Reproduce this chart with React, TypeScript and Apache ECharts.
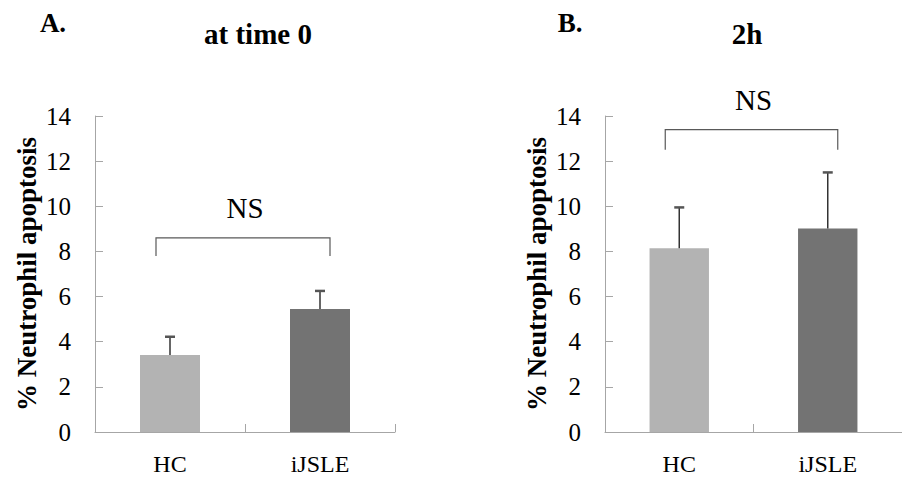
import React, { useEffect, useRef } from 'react';
import * as echarts from 'echarts';

const categories = ['HC', 'iJSLE'];
const time0Means = [3.41, 5.45];
const time0Upper = [4.22, 6.25];
const h2Means = [8.14, 9.02];
const h2Upper = [9.95, 11.5];
const barColors = ['#b3b3b3', '#737373'];
const panelLetters = ['A.', 'B.'];
const panelTitles = ['at time 0', '2h'];
const significance = ['NS', 'NS'];
const bracketTop = [8.6, 13.4];
const bracketFoot = [7.8, 12.5];
const yMin = 0;
const yMax = 14;
const yStep = 2;
const yAxisTitle = '% Neutrophil apoptosis';

const FONT = 'Liberation Serif';
const AXIS_COLOR = '#a6a6a6';

const panels = [
  { means: time0Means, upper: time0Upper },
  { means: h2Means, upper: h2Upper },
];

export default function App() {
  const ref = useRef<HTMLDivElement>(null);

  useEffect(() => {
    if (!ref.current) return;
    const chart = echarts.init(ref.current, undefined, { renderer: 'svg' });

    const grids = [
      { left: 95, top: 116, width: 300, height: 316 },
      { left: 605, top: 116, width: 303, height: 316 },
    ];

    const xAxes = panels.map((_, i) => ({
      type: 'category',
      gridIndex: i,
      data: categories,
      boundaryGap: true,
      axisLine: { show: true, lineStyle: { color: AXIS_COLOR, width: 1 } },
      axisTick: { show: true, inside: true, length: 8, lineStyle: { color: AXIS_COLOR } },
      axisLabel: { fontSize: 24, color: '#000', fontFamily: FONT, margin: 20 },
      splitLine: { show: false },
    }));

    const yAxes = panels.map((_, i) => ({
      type: 'value',
      gridIndex: i,
      min: yMin,
      max: yMax,
      interval: yStep,
      name: yAxisTitle,
      nameLocation: 'middle',
      nameRotate: 90,
      nameGap: 55,
      nameTextStyle: { fontSize: 27, fontWeight: 'bold', color: '#000', fontFamily: FONT },
      axisLine: { show: true, lineStyle: { color: AXIS_COLOR, width: 1 } },
      axisTick: { show: true, inside: true, length: 8, lineStyle: { color: AXIS_COLOR } },
      axisLabel: { fontSize: 25, color: '#000', fontFamily: FONT, margin: 24 },
      splitLine: { show: false },
    }));

    const series: any[] = [];
    panels.forEach((p, i) => {
      series.push({
        type: 'bar',
        xAxisIndex: i,
        yAxisIndex: i,
        barWidth: '40%',
        data: p.means.map((v, j) => ({ value: v, itemStyle: { color: barColors[j] } })),
        z: 2,
      });
      series.push({
        type: 'custom',
        xAxisIndex: i,
        yAxisIndex: i,
        clip: false,
        z: 3,
        encode: { x: 0, y: [1, 2] },
        data: p.means.map((v, j) => [j, v, p.upper[j]]),
        renderItem: (params: any, api: any) => {
          const base = api.coord([api.value(0), api.value(1)]);
          const top = api.coord([api.value(0), api.value(2)]);
          return {
            type: 'group',
            children: [
              {
                type: 'line',
                shape: { x1: base[0], y1: base[1], x2: base[0], y2: top[1] },
                style: { stroke: '#333333', lineWidth: 1.5 },
              },
              {
                type: 'line',
                shape: { x1: base[0] - 5, y1: top[1], x2: base[0] + 5, y2: top[1] },
                style: { stroke: '#555555', lineWidth: 2.5 },
              },
            ],
          };
        },
      });
      series.push({
        type: 'custom',
        xAxisIndex: i,
        yAxisIndex: i,
        clip: false,
        z: 3,
        encode: { x: 0, y: [1, 2] },
        data: [[0, bracketTop[i], bracketFoot[i]]],
        renderItem: (params: any, api: any) => {
          const l = api.coord([0, api.value(1)]);
          const r = api.coord([1, api.value(1)]);
          const foot = api.coord([0, api.value(2)]);
          const xL = l[0] - 14;
          const xR = r[0] + 10;
          return {
            type: 'group',
            children: [
              {
                type: 'polyline',
                shape: {
                  points: [
                    [xL, foot[1]],
                    [xL, l[1]],
                    [xR, l[1]],
                    [xR, foot[1]],
                  ],
                },
                style: { stroke: '#595959', lineWidth: 1.2, fill: 'none' },
              },
              {
                type: 'text',
                x: (l[0] + r[0]) / 2,
                y: l[1] - 29.5,
                style: {
                  text: significance[i],
                  fontSize: 29,
                  fontFamily: FONT,
                  fill: '#000',
                  align: 'center',
                  verticalAlign: 'middle',
                },
              },
            ],
          };
        },
      });
    });

    const letterPos = [
      [53, 23],
      [570, 23],
    ];
    const titlePos = [
      [258, 34],
      [747, 34],
    ];
    const graphic: any[] = [];
    panels.forEach((_, i) => {
      graphic.push({
        type: 'text',
        x: letterPos[i][0],
        y: letterPos[i][1],
        style: {
          text: panelLetters[i],
          fontSize: 27,
          fontWeight: 'bold',
          fontFamily: FONT,
          fill: '#000',
          align: 'center',
          verticalAlign: 'middle',
        },
      });
      graphic.push({
        type: 'text',
        x: titlePos[i][0],
        y: titlePos[i][1],
        style: {
          text: panelTitles[i],
          fontSize: 29,
          fontWeight: 'bold',
          fontFamily: FONT,
          fill: '#000',
          align: 'center',
          verticalAlign: 'middle',
        },
      });
    });

    chart.setOption({
      animation: false,
      backgroundColor: '#ffffff',
      grid: grids,
      xAxis: xAxes,
      yAxis: yAxes,
      series,
      graphic,
    });

    return () => chart.dispose();
  }, []);

  return (
    <div
      ref={ref}
      style={{ position: 'absolute', left: 0, top: 0, width: 902, height: 480, background: '#fff' }}
    />
  );
}
